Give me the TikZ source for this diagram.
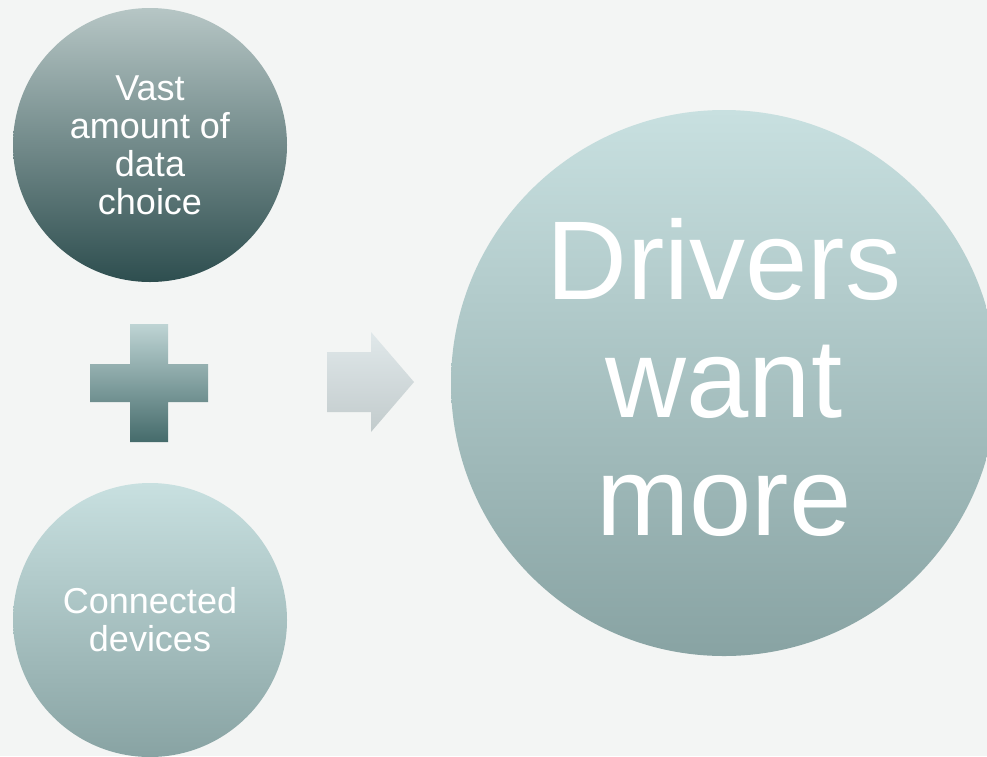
\documentclass[tikz,border=0pt]{standalone}
\usepackage{fontspec}
\setmainfont{Liberation Sans}

\definecolor{bg}{HTML}{F3F5F4}
\definecolor{darktop}{HTML}{B6C6C5}
\definecolor{darkbot}{HTML}{2E4E4F}
\definecolor{softtop}{HTML}{C8E0E0}
\definecolor{softbot}{HTML}{88A3A3}
\definecolor{plustop}{HTML}{BED4D4}
\definecolor{plusbot}{HTML}{456B6B}
\definecolor{arrtop}{HTML}{E0E8EA}
\definecolor{arrbot}{HTML}{C2CBCC}

\begin{document}
\begin{tikzpicture}[x=1pt,y=-1pt,
	bubble/.style = {circle, inner sep = 0pt, minimum size = 274pt, text = white,
		align = center, font = \fontsize{36}{38}\selectfont},
	big bubble/.style = {bubble, minimum size = 546pt},
	big text/.style = {text = white, align = center, inner sep = 0pt,
		font = \fontsize{112}{118}\selectfont}]

	\fill[bg] (0,0) rectangle (987,756);
	\useasboundingbox (0,0) rectangle (987,756);

	\node[bubble, top color=darktop, bottom color=darkbot] (data) at (150,145) {Vast\\amount of\\data\\choice};
	\node[bubble, top color=softtop, bottom color=softbot] (devices) at (150,620) {Connected\\devices};
	\node[big bubble, top color=softtop, bottom color=softbot] (drivers) at (724,383) {};
	\node[big text] (want) at ([yshift=6pt]drivers.center) {Drivers\\want\\more};

	% plus sign
	\shade[top color=plustop, bottom color=plusbot, shift={(149,383)}]
	(-19,-59) -- (19,-59) -- (19,-19) -- (59,-19) -- (59,19) -- (19,19) -- (19,59)
	-- (-19,59) -- (-19,19) -- (-59,19) -- (-59,-19) -- (-19,-19) -- cycle;

	% block arrow
	\shade[top color=arrtop, bottom color=arrbot, shift={(327,382)}]
	(0,-30) -- (44,-30) -- (44,-50) -- (87,0) -- (44,50) -- (44,30) -- (0,30) -- cycle;
\end{tikzpicture}
\end{document}
